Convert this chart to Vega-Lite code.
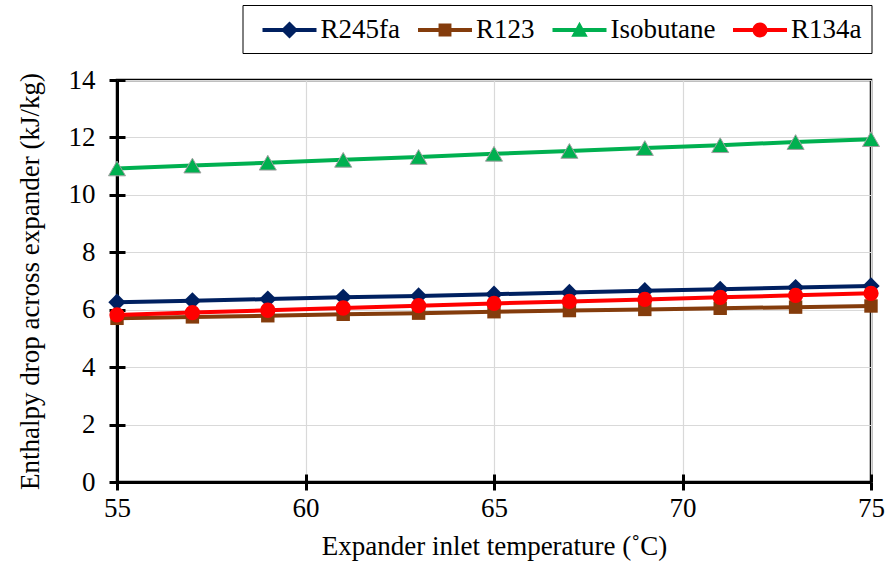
{
  "$schema": "https://vega.github.io/schema/vega-lite/v6.json",
  "width": 754,
  "height": 402,
  "autosize": "none",
  "padding": {"left": 117, "top": 80, "right": 15, "bottom": 93},
  "config": {
    "font": "Liberation Serif",
    "view": {"stroke": "#000000", "strokeWidth": 2.5},
    "axis": {"labelFont": "Liberation Serif", "titleFont": "Liberation Serif", "labelColor": "#000", "titleColor": "#000", "labelFontSize": 27, "titleFontSize": 27, "titleFontWeight": "normal", "gridColor": "#d9d9d9", "gridWidth": 1.2}
  },
  "data": {"values": [
    {"t": 55, "series": "R245fa", "h": 6.26}, {"t": 57, "series": "R245fa", "h": 6.31}, {"t": 59, "series": "R245fa", "h": 6.37}, {"t": 61, "series": "R245fa", "h": 6.43}, {"t": 63, "series": "R245fa", "h": 6.48}, {"t": 65, "series": "R245fa", "h": 6.54}, {"t": 67, "series": "R245fa", "h": 6.60}, {"t": 69, "series": "R245fa", "h": 6.66}, {"t": 71, "series": "R245fa", "h": 6.71}, {"t": 73, "series": "R245fa", "h": 6.77}, {"t": 75, "series": "R245fa", "h": 6.83},
    {"t": 55, "series": "R123", "h": 5.70}, {"t": 57, "series": "R123", "h": 5.75}, {"t": 59, "series": "R123", "h": 5.79}, {"t": 61, "series": "R123", "h": 5.84}, {"t": 63, "series": "R123", "h": 5.88}, {"t": 65, "series": "R123", "h": 5.93}, {"t": 67, "series": "R123", "h": 5.97}, {"t": 69, "series": "R123", "h": 6.01}, {"t": 71, "series": "R123", "h": 6.05}, {"t": 73, "series": "R123", "h": 6.09}, {"t": 75, "series": "R123", "h": 6.13},
    {"t": 55, "series": "Isobutane", "h": 10.92}, {"t": 57, "series": "Isobutane", "h": 11.02}, {"t": 59, "series": "Isobutane", "h": 11.12}, {"t": 61, "series": "Isobutane", "h": 11.22}, {"t": 63, "series": "Isobutane", "h": 11.32}, {"t": 65, "series": "Isobutane", "h": 11.43}, {"t": 67, "series": "Isobutane", "h": 11.53}, {"t": 69, "series": "Isobutane", "h": 11.63}, {"t": 71, "series": "Isobutane", "h": 11.73}, {"t": 73, "series": "Isobutane", "h": 11.84}, {"t": 75, "series": "Isobutane", "h": 11.94},
    {"t": 55, "series": "R134a", "h": 5.82}, {"t": 57, "series": "R134a", "h": 5.90}, {"t": 59, "series": "R134a", "h": 5.98}, {"t": 61, "series": "R134a", "h": 6.06}, {"t": 63, "series": "R134a", "h": 6.14}, {"t": 65, "series": "R134a", "h": 6.22}, {"t": 67, "series": "R134a", "h": 6.29}, {"t": 69, "series": "R134a", "h": 6.36}, {"t": 71, "series": "R134a", "h": 6.43}, {"t": 73, "series": "R134a", "h": 6.50}, {"t": 75, "series": "R134a", "h": 6.57}
  ]},
  "resolve": {"axis": {"x": "independent", "y": "independent"}},
  "layer": [
    {
      "mark": {"type": "line", "strokeWidth": 4},
      "encoding": {
        "x": {"field": "t", "type": "quantitative", "scale": {"domain": [55, 75], "nice": false, "zero": false},
          "axis": {"orient": "bottom", "values": [55, 60, 65, 70, 75], "title": "Expander inlet temperature  (˚C)", "domainColor": "#000", "domainWidth": 3, "tickColor": "#000", "tickWidth": 3, "tickSize": 8, "labelPadding": 5, "titlePadding": 12, "grid": true, "labelFlush": false}},
        "y": {"field": "h", "type": "quantitative", "scale": {"domain": [0, 14], "nice": false},
          "axis": {"orient": "left", "values": [0, 2, 4, 6, 8, 10, 12, 14], "title": "Enthalpy drop across expander (kJ/kg)", "domainColor": "#000", "domainWidth": 3, "tickColor": "#000", "tickWidth": 3, "tickSize": 8, "labelPadding": 14, "titlePadding": 24, "grid": true}},
        "color": {"field": "series", "type": "nominal",
          "scale": {"domain": ["R245fa", "R123", "Isobutane", "R134a"], "range": ["#002060", "#843c0c", "#00b050", "#ff0000"]},
          "legend": {
            "orient": "none", "legendX": 125.5, "legendY": -75, "direction": "horizontal", "columns": 4,
            "title": null, "padding": 10, "symbolSize": 900, "symbolOffset": 22, "labelOffset": 16, "columnPadding": 7.5,
            "strokeColor": "#000", "fillColor": "#fff", "labelFont": "Liberation Serif", "labelFontSize": 27, "labelColor": "#000",
            "encode": {
              "symbols": {"update": {
                "shape": {"signal": "datum.value === 'R245fa' ? 'M-1.8,-0.13L1.8,-0.13L1.8,0.13L-1.8,0.13Z M0,-0.57L0.57,0L0,0.57L-0.57,0Z' : datum.value === 'R123' ? 'M-1.8,-0.13L1.8,-0.13L1.8,0.13L-1.8,0.13Z M-0.43,-0.43L0.43,-0.43L0.43,0.43L-0.43,0.43Z' : datum.value === 'Isobutane' ? 'M-1.8,-0.13L1.8,-0.13L1.8,0.13L-1.8,0.13Z M0,-0.55L0.55,0.45L-0.55,0.45Z' : 'M-1.8,-0.13L1.8,-0.13L1.8,0.13L-1.8,0.13Z M-0.5,0A0.5,0.5,0,1,1,0.5,0A0.5,0.5,0,1,1,-0.5,0Z'"},
                "size": {"value": 900},
                "fill": {"signal": "scale('color', datum.value)"},
                "fillOpacity": {"value": 1},
                "opacity": {"value": 1},
                "strokeWidth": {"value": 0}
              }}
            }
          }}
      }
    },
    {
      "transform": [{"filter": "datum.series === 'R245fa'"}],
      "mark": {"type": "point", "filled": true, "opacity": 1, "shape": "diamond", "size": 300},
      "encoding": {
        "x": {"field": "t", "type": "quantitative", "axis": {"orient": "bottom", "values": [55, 60, 65, 70, 75], "title": null, "labels": false, "domain": false, "grid": false, "tickColor": "#000", "tickWidth": 3, "tickSize": -8}},
        "y": {"field": "h", "type": "quantitative", "axis": {"orient": "left", "values": [0, 2, 4, 6, 8, 10, 12, 14], "title": null, "labels": false, "domain": false, "grid": false, "tickColor": "#000", "tickWidth": 3, "tickSize": -8}},
        "color": {"field": "series", "type": "nominal"}
      }
    },
    {
      "transform": [{"filter": "datum.series === 'R123'"}],
      "mark": {"type": "point", "filled": true, "opacity": 1, "shape": "square", "size": 180},
      "encoding": {
        "x": {"field": "t", "type": "quantitative", "axis": null},
        "y": {"field": "h", "type": "quantitative", "axis": null},
        "color": {"field": "series", "type": "nominal"}
      }
    },
    {
      "transform": [{"filter": "datum.series === 'Isobutane'"}],
      "mark": {"type": "point", "filled": true, "opacity": 1, "shape": "triangle-up", "size": 290, "stroke": "#a0a0a0", "strokeWidth": 1},
      "encoding": {
        "x": {"field": "t", "type": "quantitative", "axis": null},
        "y": {"field": "h", "type": "quantitative", "axis": null},
        "color": {"field": "series", "type": "nominal"}
      }
    },
    {
      "transform": [{"filter": "datum.series === 'R134a'"}],
      "mark": {"type": "point", "filled": true, "opacity": 1, "shape": "circle", "size": 235},
      "encoding": {
        "x": {"field": "t", "type": "quantitative", "axis": null},
        "y": {"field": "h", "type": "quantitative", "axis": null},
        "color": {"field": "series", "type": "nominal"}
      }
    }
  ]
}
